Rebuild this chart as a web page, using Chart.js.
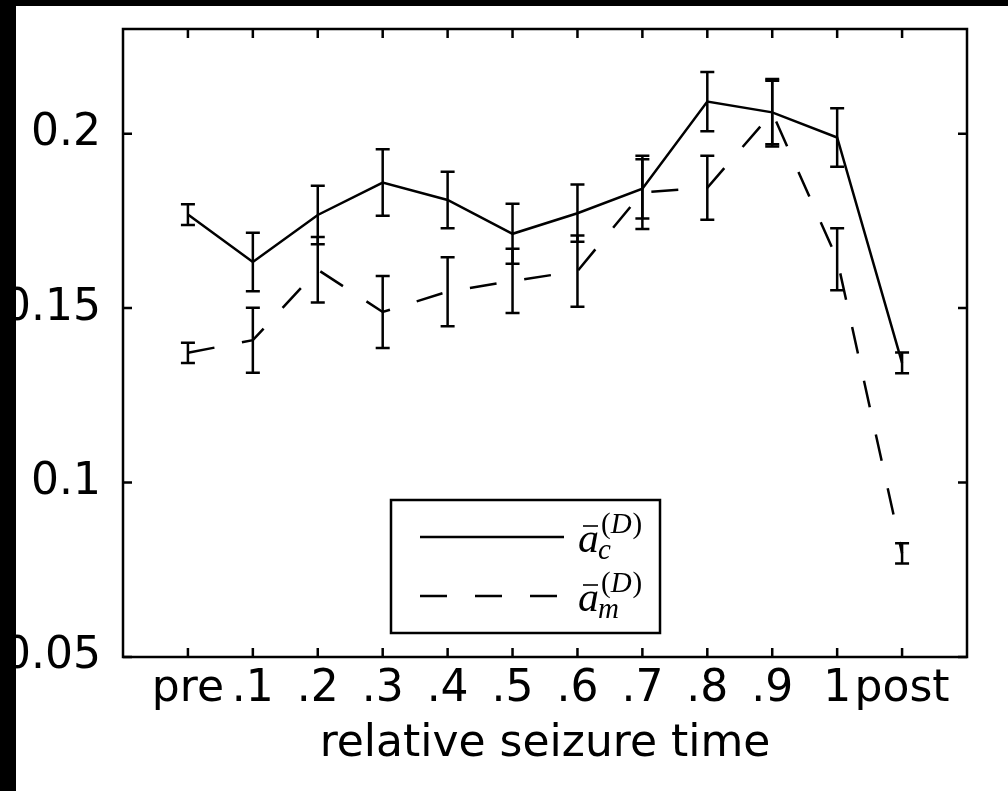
<!DOCTYPE html>
<html>
<head>
<meta charset="utf-8">
<script src="https://cdn.jsdelivr.net/npm/chart.js@4.4.0/dist/chart.umd.min.js"></script>
<style>
    html, body { margin: 0; padding: 0; background: #000; }
    #wrap { position: absolute; left: 0; top: 0; width: 1008px; height: 791px; background: #fff; }
    .strip-left { position: absolute; left: 0; top: 0; width: 16px; height: 791px; background: #000; }
    .strip-top { position: absolute; left: 0; top: 0; width: 1008px; height: 6px; background: #000; }
</style>
</head>
<body>
<div id="wrap"><canvas id="chart" width="1008" height="791"></canvas></div>
<div class="strip-left"></div>
<div class="strip-top"></div>
<script>
const categories = ['pre', '.1', '.2', '.3', '.4', '.5', '.6', '.7', '.8', '.9', '1', 'post'];
const meanC = [0.1768, 0.1632, 0.1767, 0.1860, 0.1810, 0.1713, 0.1772, 0.1842, 0.2092, 0.2061, 0.1989, 0.1343];
const errC = [0.0030, 0.0084, 0.0084, 0.0095, 0.0081, 0.0086, 0.0082, 0.0085, 0.0085, 0.0091, 0.0084, 0.0030];
const meanM = [0.1372, 0.1408, 0.1610, 0.1489, 0.1547, 0.1578, 0.1606, 0.1832, 0.1845, 0.2060, 0.1640, 0.0797];
const errM = [0.0029, 0.0093, 0.0094, 0.0103, 0.0099, 0.0092, 0.0102, 0.0105, 0.0092, 0.0097, 0.0089, 0.0029];
const yTicks = [0.05, 0.1, 0.15, 0.2];
const yTickLabels = ['0.05', '0.1', '0.15', '0.2'];
const xTitle = 'relative seizure time';

const axisFont = { family: 'DejaVu Sans, sans-serif', size: 44 };

function toPoints(values) {
    return values.map((v, i) => ({ x: i + 1, y: v }));
}

// box round the plot with inward ticks on all four sides
const framePlugin = {
    id: 'frame',
    afterDraw(chart) {
        const { ctx, chartArea: a, scales } = chart;
        ctx.save();
        ctx.strokeStyle = '#000';
        ctx.lineWidth = 2.5;
        ctx.strokeRect(a.left, a.top, a.right - a.left, a.bottom - a.top);
        const len = 9;
        ctx.beginPath();
        scales.x.ticks.forEach(t => {
            const px = scales.x.getPixelForValue(t.value);
            ctx.moveTo(px, a.bottom); ctx.lineTo(px, a.bottom - len);
            ctx.moveTo(px, a.top); ctx.lineTo(px, a.top + len);
        });
        scales.y.ticks.forEach(t => {
            const py = scales.y.getPixelForValue(t.value);
            ctx.moveTo(a.left, py); ctx.lineTo(a.left + len, py);
            ctx.moveTo(a.right, py); ctx.lineTo(a.right - len, py);
        });
        ctx.stroke();
        ctx.restore();
    }
};

const errorBarPlugin = {
    id: 'errorBars',
    afterDatasetsDraw(chart) {
        const { ctx, scales } = chart;
        const errs = [errC, errM];
        ctx.save();
        ctx.strokeStyle = '#000';
        ctx.lineWidth = 2.5;
        ctx.setLineDash([]);
        chart.data.datasets.forEach((ds, di) => {
            ds.data.forEach((p, i) => {
                const x = scales.x.getPixelForValue(p.x);
                const yTop = scales.y.getPixelForValue(p.y + errs[di][i]);
                const yBot = scales.y.getPixelForValue(p.y - errs[di][i]);
                const w = 7;
                ctx.beginPath();
                ctx.moveTo(x, yTop); ctx.lineTo(x, yBot);
                ctx.moveTo(x - w, yTop); ctx.lineTo(x + w, yTop);
                ctx.moveTo(x - w, yBot); ctx.lineTo(x + w, yBot);
                ctx.stroke();
            });
        });
        ctx.restore();
    }
};

function drawMathLabel(ctx, x, base, sub) {
    ctx.fillStyle = '#000';
    ctx.strokeStyle = '#000';
    ctx.textBaseline = 'alphabetic';
    ctx.textAlign = 'left';
    ctx.font = 'italic 42px "Liberation Serif", serif';
    ctx.fillText('a', x, base);
    ctx.lineWidth = 1.6;
    ctx.beginPath();
    ctx.moveTo(x + 5, base - 26); ctx.lineTo(x + 20, base - 26);
    ctx.stroke();
    ctx.font = 'italic 29px "Liberation Serif", serif';
    ctx.fillText(sub, x + 20, base + 7);
    let sx = x + 23;
    const sy = base - 19;
    ctx.font = '29px "Liberation Serif", serif';
    ctx.fillText('(', sx, sy);
    sx += ctx.measureText('(').width;
    ctx.font = 'italic 29px "Liberation Serif", serif';
    ctx.fillText('D', sx, sy);
    sx += ctx.measureText('D').width + 1;
    ctx.font = '29px "Liberation Serif", serif';
    ctx.fillText(')', sx, sy);
}

const legendPlugin = {
    id: 'mathLegend',
    afterDraw(chart) {
        const { ctx } = chart;
        const box = { x: 391, y: 500, w: 269, h: 133 };
        ctx.save();
        ctx.fillStyle = '#fff';
        ctx.fillRect(box.x, box.y, box.w, box.h);
        ctx.strokeStyle = '#000';
        ctx.lineWidth = 2.5;
        ctx.strokeRect(box.x, box.y, box.w, box.h);
        chart.data.datasets.forEach((ds, i) => {
            const ly = i === 0 ? 537 : 596;
            ctx.setLineDash(ds.borderDash || []);
            ctx.lineWidth = 2.5;
            ctx.beginPath();
            ctx.moveTo(420, ly); ctx.lineTo(564, ly);
            ctx.stroke();
            ctx.setLineDash([]);
            drawMathLabel(ctx, 578, ly + 15, i === 0 ? 'c' : 'm');
        });
        ctx.restore();
    }
};

new Chart(document.getElementById('chart'), {
    type: 'line',
    data: {
        datasets: [{
            label: 'a_c',
            data: toPoints(meanC),
            borderColor: '#000',
            borderWidth: 2.5,
            pointRadius: 0,
            tension: 0,
            fill: false
        }, {
            label: 'a_m',
            data: toPoints(meanM),
            borderColor: '#000',
            borderWidth: 2.5,
            borderDash: [27, 28],
            pointRadius: 0,
            tension: 0,
            fill: false
        }]
    },
    options: {
        responsive: false,
        animation: false,
        layout: { padding: { top: 29, right: 41, left: 0, bottom: 0 } },
        plugins: { legend: { display: false }, tooltip: { enabled: false } },
        scales: {
            x: {
                type: 'linear',
                min: 0,
                max: 13,
                afterBuildTicks: s => { s.ticks = categories.map((c, i) => ({ value: i + 1 })); },
                afterFit: s => { s.height = 134; s.paddingLeft = 0; s.paddingRight = 0; },
                ticks: {
                    callback: v => categories[v - 1],
                    font: axisFont,
                    color: '#000',
                    padding: -2,
                    autoSkip: false,
                    maxRotation: 0
                },
                grid: { display: false },
                border: { display: false },
                title: {
                    display: true,
                    text: xTitle,
                    font: axisFont,
                    color: '#000',
                    padding: { top: 0, bottom: 20 }
                }
            },
            y: {
                min: 0.05,
                max: 0.23,
                afterBuildTicks: s => { s.ticks = yTicks.map(v => ({ value: v })); },
                afterFit: s => { s.width = 123; s.paddingTop = 0; s.paddingBottom = 0; },
                ticks: {
                    callback: (v, i) => yTickLabels[i],
                    font: axisFont,
                    color: '#000',
                    padding: 14
                },
                grid: { display: false },
                border: { display: false }
            }
        }
    },
    plugins: [framePlugin, errorBarPlugin, legendPlugin]
});
</script>
</body>
</html>
